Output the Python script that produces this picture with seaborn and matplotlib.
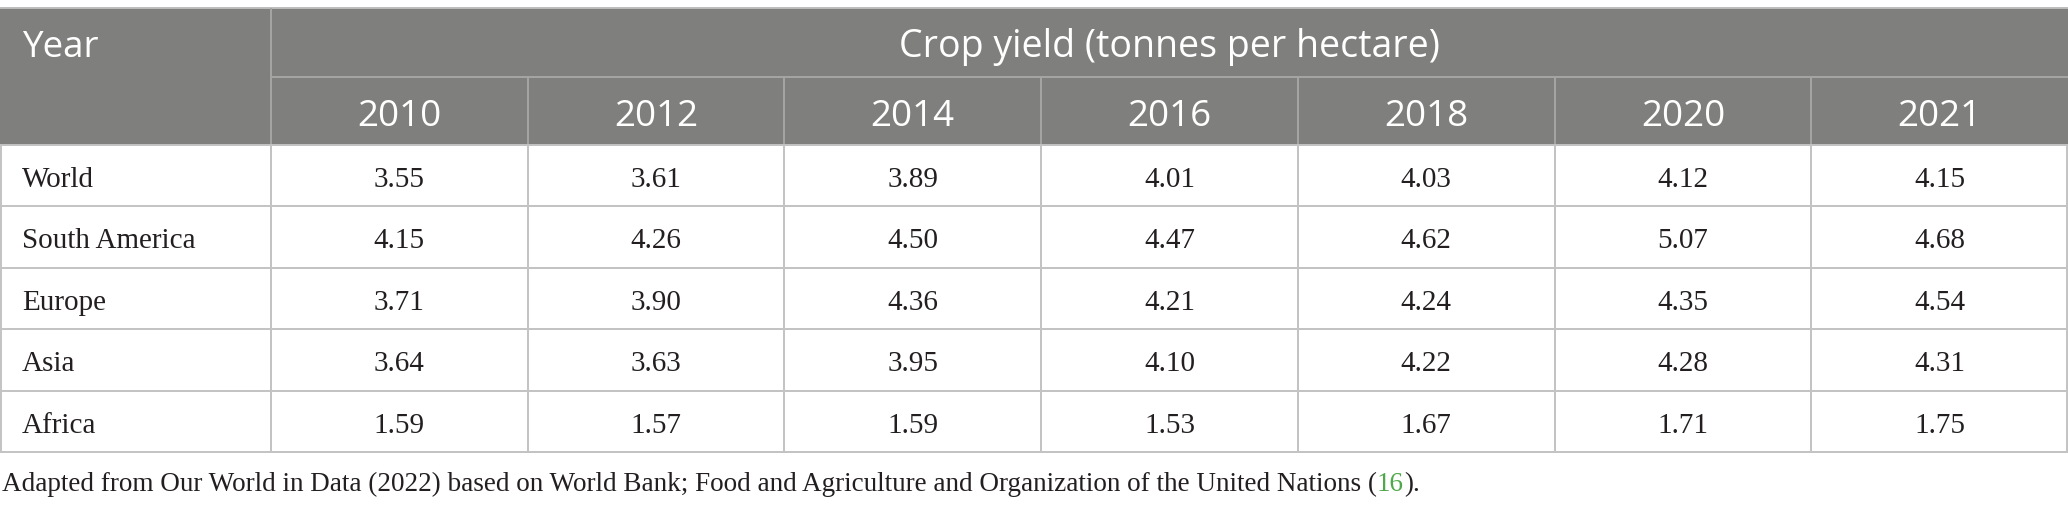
"""
Crop yield table (tonnes per hectare), drawn as a seaborn heatmap
with a flat white colormap plus a grey header band.
"""

import numpy as np
import pandas as pd
import matplotlib
matplotlib.use("Agg")
import matplotlib.pyplot as plt
from matplotlib.colors import ListedColormap
from matplotlib.patches import Rectangle
import seaborn as sns

# ---------- data ----------
years = [2010, 2012, 2014, 2016, 2018, 2020, 2021]
regions = ["World", "South America", "Europe", "Asia", "Africa"]

world = [3.55, 3.61, 3.89, 4.01, 4.03, 4.12, 4.15]
south_america = [4.15, 4.26, 4.50, 4.47, 4.62, 5.07, 4.68]
europe = [3.71, 3.90, 4.36, 4.21, 4.24, 4.35, 4.54]
asia = [3.64, 3.63, 3.95, 4.10, 4.22, 4.28, 4.31]
africa = [1.59, 1.57, 1.59, 1.53, 1.67, 1.71, 1.75]

corner_label = "Year"
group_label = "Crop yield (tonnes per hectare)"
caption_text = ("Adapted from Our World in Data (2022) based on World Bank; "
                "Food and Agriculture and Organization of the United Nations (")
caption_ref = "16"
caption_end = ")."

yields = pd.DataFrame([world, south_america, europe, asia, africa],
                      index=regions, columns=years)

# ---------- style ----------
sns.set_theme(style="white")
plt.rcParams["font.family"] = ["DejaVu Sans"]

header_bg = "#7f807e"
header_line = "#a6a7a5"
body_line = "#c3c3c3"
text_dark = "#231f20"
ref_green = "#4fa84a"
serif = "Liberation Serif"
sans = "Open Sans"

# pixel layout of the table (figure is 2068 x 509 px)
W_PX, H_PX, DPI = 2068, 509, 100
first_col_px = 271
table_top_px, header_mid_px, header_bot_px, table_bot_px = 8, 77, 145, 452
row1_base_px, row2_base_px = 57, 126
body_base_off = 42          # baseline offset inside a body row
caption_base_px = 491

col_w = (W_PX - first_col_px) / len(years)
row_h = (table_bot_px - header_bot_px) / len(regions)
first_w = first_col_px / col_w
pad_x = 22 / col_w


def ypx(px):
    """pixel row (from top) -> data y of the heatmap axes"""
    return (px - header_bot_px) / row_h


hdr_top = ypx(table_top_px)
hdr_mid = ypx(header_mid_px)

fig = plt.figure(figsize=(W_PX / DPI, H_PX / DPI), dpi=DPI)
ax = fig.add_axes([0, 0, 1, 1])

sns.heatmap(yields, ax=ax, cmap=ListedColormap(["white"]), cbar=False,
            annot=True, fmt=".2f", linewidths=1.4, linecolor=body_line,
            xticklabels=False, yticklabels=False,
            annot_kws=dict(fontsize=21, family=serif, color=text_dark,
                           va="baseline"))

# put the numbers on the row baseline
for t in ax.texts:
    x, y = t.get_position()
    t.set_position((x, np.floor(y) + body_base_off / row_h))

ax.set_xlim(-first_w, len(years))
ax.set_ylim(ypx(H_PX), ypx(0))

# header band
ax.add_patch(Rectangle((-first_w, hdr_top), first_w + len(years), -hdr_top,
                       facecolor=header_bg, edgecolor="none", zorder=1))
ax.hlines(hdr_top, -first_w, len(years), colors="#bdbdbd", lw=1.4, zorder=2)
ax.hlines(hdr_mid, 0, len(years), colors=header_line, lw=1.4, zorder=2)
ax.vlines(np.arange(1, len(years)), hdr_mid, 0, colors=header_line, lw=1.4, zorder=2)
ax.vlines(0, hdr_top, 0, colors=header_line, lw=1.4, zorder=2)
ax.hlines(0, -first_w, len(years), colors=body_line, lw=1.4, zorder=2)

# first column grid
ax.hlines(np.arange(1, len(regions) + 1), -first_w, 0, colors=body_line, lw=1.4, zorder=2)
ax.vlines(-first_w + 0.004, 0, len(regions), colors=body_line, lw=1.4, zorder=2)
ax.vlines(len(years) - 0.004, 0, len(regions), colors=body_line, lw=1.4, zorder=2)

# header text
ax.text(-first_w + pad_x, ypx(row1_base_px), corner_label, ha="left", va="baseline",
        color="white", fontsize=26.5, family=sans, zorder=3)
ax.text(len(years) / 2, ypx(row1_base_px), group_label, ha="center", va="baseline",
        color="white", fontsize=27, family=sans, zorder=3)
for i, yr in enumerate(years):
    ax.text(i + 0.5, ypx(row2_base_px), str(yr), ha="center", va="baseline",
            color="white", fontsize=26.5, family=sans, zorder=3)

# region names
for i, name in enumerate(regions):
    ax.text(-first_w + pad_x, i + body_base_off / row_h, name, ha="left", va="baseline",
            color=text_dark, fontsize=21, family=serif, zorder=3)

ax.axis("off")

# caption with green reference number
cap = fig.text(2 / W_PX, 1 - caption_base_px / H_PX, caption_text, ha="left",
               va="baseline", color=text_dark, fontsize=19.5, family=serif)
ref = ax.annotate(caption_ref, xy=(1, 0), xycoords=cap, ha="left", va="bottom",
                  color=ref_green, fontsize=19.5, family=serif, annotation_clip=False)
ax.annotate(caption_end, xy=(1, 0), xycoords=ref, ha="left", va="bottom",
            color=text_dark, fontsize=19.5, family=serif, annotation_clip=False)

fig.savefig("out.png", dpi=DPI)
plt.close(fig)
